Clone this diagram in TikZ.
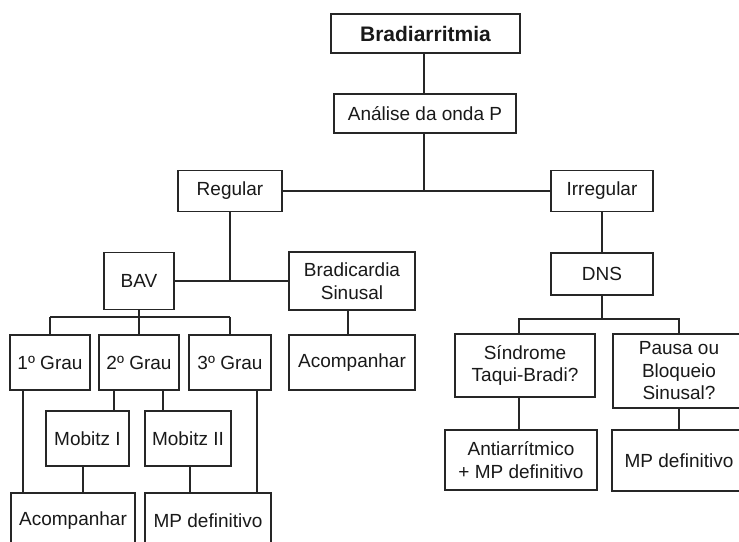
\documentclass[tikz,border=0pt]{standalone}
\usepackage{fontspec}
\setmainfont{Liberation Sans}
\begin{document}
\begin{tikzpicture}[x=1pt,y=-1pt,
  box/.style={draw=black!85, line width=1.9pt, fill=white, inner sep=0pt,
    align=center, text=black!90, font=\fontsize{19}{22.5}\selectfont},
  link/.style={draw=black!85, line width=1.9pt}]
\useasboundingbox (0,0) rectangle (739,541);
\clip (0,0) rectangle (739,541);

% top of the tree
\node[box, font=\fontsize{21}{24}\selectfont\bfseries, minimum width=189pt, minimum height=39pt] (brad) at (425.5,33.5) {Bradiarritmia};
\node[box, minimum width=182pt, minimum height=39pt] (anal) at (425,113.5) {Análise da onda P};
\node[box, minimum width=104pt, minimum height=41pt] (reg) at (230,191) {Regular};
\node[box, minimum width=102pt, minimum height=41pt] (irr) at (602,191) {Irregular};

% regular rhythm branch
\node[box, minimum width=70pt, minimum height=57pt] (bav) at (139,281) {BAV};
\node[box, minimum width=126pt, minimum height=58pt] (bsin) at (352,281) {Bradicardia\\Sinusal};
\node[box, minimum width=80pt, minimum height=55pt] (g1) at (50,362.5) {1º Grau};
\node[box, minimum width=80pt, minimum height=55pt] (g2) at (139,362.5) {2º Grau};
\node[box, minimum width=82pt, minimum height=55pt] (g3) at (230,362.5) {3º Grau};
\node[box, minimum width=126pt, minimum height=55pt] (acp1) at (352,362.5) {Acompanhar};
\node[box, minimum width=83pt, minimum height=55pt] (mob1) at (87.5,438.5) {Mobitz I};
\node[box, minimum width=86pt, minimum height=55pt] (mob2) at (188,438.5) {Mobitz II};
\node[box, minimum width=124pt, minimum height=55pt] (acp2) at (73,520.5) {Acompanhar};
\node[box, minimum width=126pt, minimum height=55pt] (mpd) at (208,520.5) {MP definitivo};

% irregular rhythm branch
\node[box, minimum width=102pt, minimum height=42pt] (dns) at (602,274) {DNS};
\node[box, minimum width=140pt, minimum height=63pt] (sind) at (525,365.5) {Síndrome\\Taqui-Bradi?};
\node[box, minimum width=132pt, minimum height=74pt] (pausa) at (679,371) {Pausa ou\\Bloqueio\\Sinusal?};
\node[box, minimum width=152pt, minimum height=60pt] (anti) at (521,460) {Antiarrítmico\\+ MP definitivo};
\node[box, minimum width=134pt, minimum height=61pt] (mpd2) at (679,460.5) {MP definitivo};

% connector columns and bus rows
\coordinate (jtop) at (424,191);
\coordinate (cA) at (23,0);
\coordinate (cB) at (114,0);
\coordinate (cC) at (163,0);
\coordinate (cD) at (83,0);
\coordinate (cE) at (190,0);
\coordinate (cF) at (257,0);
\coordinate (cG) at (348,0);
\coordinate (cS) at (519,0);
\coordinate (busL) at (0,317);
\coordinate (busR) at (0,319);

\draw[link] (brad.south -| jtop) -- (anal.north -| jtop);
\draw[link] (anal.south -| jtop) -- (jtop);
\draw[link] (reg.east) -- (irr.west);
\draw[link] (reg.south) -- (reg.south |- bav.east);
\draw[link] (bav.east) -- (bsin.west);
\draw[link] (bav.south) -- (bav.south |- busL);
\draw[link] (g1.north |- busL) -- (g3.north |- busL);
\draw[link] (g1.north |- busL) -- (g1.north);
\draw[link] (g2.north |- busL) -- (g2.north);
\draw[link] (g3.north |- busL) -- (g3.north);
\draw[link] (bsin.south -| cG) -- (acp1.north -| cG);
\draw[link] (g1.south -| cA) -- (acp2.north -| cA);
\draw[link] (g2.south -| cB) -- (mob1.north -| cB);
\draw[link] (g2.south -| cC) -- (mob2.north -| cC);
\draw[link] (mob1.south -| cD) -- (acp2.north -| cD);
\draw[link] (mob2.south -| cE) -- (mpd.north -| cE);
\draw[link] (g3.south -| cF) -- (mpd.north -| cF);

\draw[link] (irr.south) -- (dns.north);
\draw[link] (dns.south) -- (dns.south |- busR);
\draw[link] (sind.north -| cS) |- (pausa.north |- busR) -- (pausa.north);
\draw[link] (sind.south -| cS) -- (anti.north -| cS);
\draw[link] (pausa.south) -- (mpd2.north);
\end{tikzpicture}
\end{document}
